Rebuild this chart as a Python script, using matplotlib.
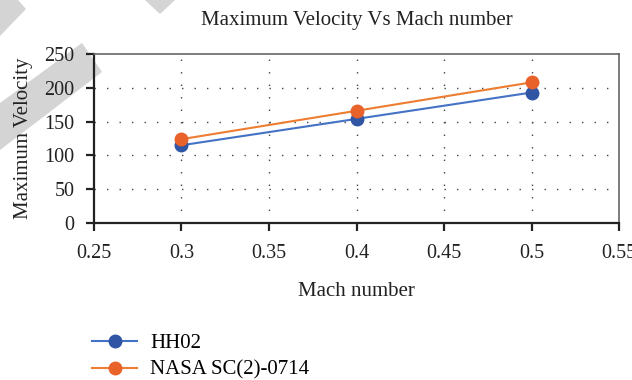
import matplotlib.pyplot as plt
from matplotlib.patches import Polygon

plt.rcParams['font.family'] = ['Liberation Serif', 'DejaVu Serif']

mach = [0.3, 0.4, 0.5]
hh02 = [115, 154, 193]
nasa = [124, 166, 208]
series_names = ['HH02', 'NASA SC(2)-0714']
x_ticks = [0.25, 0.3, 0.35, 0.4, 0.45, 0.5, 0.55]
x_tick_labels = ['0.25', '0.3', '0.35', '0.4', '0.45', '0.5', '0.55']
y_ticks = [0, 50, 100, 150, 200, 250]

W, H = 632, 380
fig = plt.figure(figsize=(6.32, 3.8), dpi=100)
ax = fig.add_axes([94 / W, 1 - 223 / H, (619 - 94) / W, (223 - 54) / H])
ax.set_facecolor('none')

# light grey watermark shapes in the top left corner
wm = '#d4d4d4'
for pts in ([(0, 0), (18, 0), (26, 9), (0, 36)],
            [(145, 0), (175, 0), (160, 14)],
            [(82, 43), (102, 72), (0, 150), (0, 103)]):
    fig.patches.append(Polygon([(x / W, 1 - y / H) for x, y in pts], closed=True,
                               transform=fig.transFigure, facecolor=wm,
                               edgecolor='none', zorder=-5))

ax.plot(mach, hh02, color='#4472C4', lw=1.5, marker='o', ms=9,
        mfc='#2F55A4', mec='#2F55A4', label=series_names[0], zorder=3)
ax.plot(mach, nasa, color='#ED7D31', lw=1.5, marker='o', ms=9,
        mfc='#E8622A', mec='#E8622A', label=series_names[1], zorder=3)

ax.set_xlim(0.25, 0.55)
ax.set_ylim(0, 250)
ax.set_xticks(x_ticks)
ax.set_xticklabels(x_tick_labels)
ax.set_yticks(y_ticks)

for v in [0.3, 0.35, 0.4, 0.45, 0.5]:
    ax.axvline(v, color='#444444', lw=1, ls=(0, (1, 8)), zorder=1)
for v in [50, 100, 150, 200]:
    ax.axhline(v, color='#444444', lw=1, ls=(0, (1, 8)), zorder=1)

for s in ['left', 'bottom']:
    ax.spines[s].set_color('#222222')
    ax.spines[s].set_linewidth(1.6)
for s in ['top', 'right']:
    ax.spines[s].set_color('#666666')
    ax.spines[s].set_linewidth(1.2)

ax.tick_params(axis='both', direction='out', length=6, width=1.6,
               color='#222222', labelsize=14.5, labelcolor='#222222')
ax.tick_params(axis='x', pad=9)
ax.tick_params(axis='y', pad=8)

ax.set_title('Maximum Velocity Vs Mach number', fontsize=15, color='#222222', pad=21)
ax.set_xlabel('Mach number', fontsize=15, color='#222222', labelpad=14)
ax.set_ylabel('Maximum Velocity', fontsize=15, color='#222222', labelpad=8)

fig.legend(loc='upper left', bbox_to_anchor=(84 / W, 1 - 325 / H), frameon=False,
           fontsize=15, handlelength=2.16, handletextpad=0.62, labelspacing=0.35,
           borderaxespad=0)

fig.savefig('out.png', dpi=100)
